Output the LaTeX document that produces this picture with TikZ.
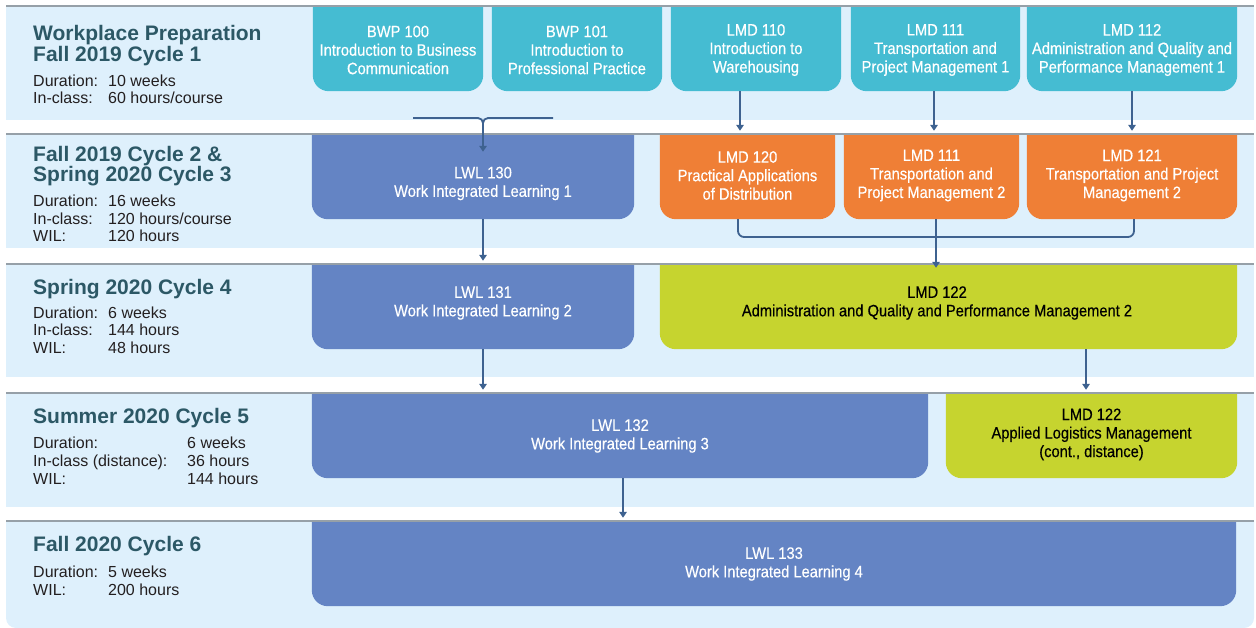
\documentclass[tikz,border=0pt]{standalone}
\usepackage{fontspec}
\setmainfont{Liberation Sans}
\newfontfamily\condfont[FakeStretch=0.89,FakeBold=0.4]{Liberation Sans}
\usetikzlibrary{arrows.meta,fit,calc}
\definecolor{bandbg}{RGB}{222,240,252}
\definecolor{gridc}{RGB}{150,160,168}
\definecolor{tealc}{RGB}{69,188,210}
\definecolor{bluec}{RGB}{100,132,196}
\definecolor{orangec}{RGB}{239,127,54}
\definecolor{greenc}{RGB}{198,212,47}
\definecolor{connc}{RGB}{62,98,144}
\definecolor{titlec}{RGB}{44,88,102}
\definecolor{bodyc}{RGB}{35,31,32}
\tikzset{
  conn/.style={draw=connc, line width=1.8pt, -{Triangle[width=7.5pt,length=6pt]}, shorten >=3pt},
  connplain/.style={draw=connc, line width=1.8pt},
  boxtext/.style={font=\condfont\fontsize{16.5}{18.5}\selectfont, align=center, inner sep=0pt},
  ttl/.style={font=\bfseries\fontsize{21}{21}\selectfont, text=titlec, anchor=base west, inner sep=0pt},
  bod/.style={font=\fontsize{16}{17.5}\selectfont, text=bodyc, anchor=base west, inner sep=0pt},
  gridline/.style={draw=gridc, line width=1.3pt},
}
% #1 name, #2 x1, #3 y1, #4 x2, #5 y2, #6 fill, #7 text colour, #8 text, #9 text position
\newcommand{\cbox}[9]{%
  \node[fit={(#2,#3) (#4,#5)}, inner sep=0pt] (#1) {};
  \begin{scope}
    \clip (#1.north west) rectangle (#1.south east);
    \fill[#6, rounded corners=16pt] ([yshift=30pt]#1.north west) rectangle (#1.south east);
  \end{scope}
  \node[boxtext, text=#7, yshift=-1.5pt] (#1-t) at (#9) {#8};
}
\begin{document}
\begin{tikzpicture}[x=1pt,y=-1pt]
\useasboundingbox (0,0) rectangle (1256,628);
% bands
\fill[bandbg] (6,6) rectangle (1254,120);
\fill[bandbg] (6,134) rectangle (1254,248);
\fill[bandbg] (6,264) rectangle (1254,377);
\fill[bandbg] (6,393) rectangle (1254,507);
\begin{scope}
  \clip (6,521) rectangle (1254,628);
  \fill[bandbg, rounded corners=10pt] (6,500) rectangle (1254,628);
\end{scope}

% row 1
\cbox{bwp100}{313}{6}{483}{91}{tealc}{white}{BWP 100\\Introduction to Business\\Communication}{398,48.5}
\cbox{bwp101}{492}{6}{662}{91}{tealc}{white}{BWP 101\\Introduction to\\Professional Practice}{577,48.5}
\cbox{lmd110}{671}{6}{841}{91}{tealc}{white}{LMD 110\\Introduction to\\Warehousing}{756,48.5}
\cbox{lmd111a}{851}{6}{1020}{91}{tealc}{white}{LMD 111\\Transportation and\\Project Management 1}{935.5,48.5}
\cbox{lmd112}{1027}{6}{1237}{91}{tealc}{white}{LMD 112\\Administration and Quality and\\Performance Management 1}{1132,48.5}
% row 2
\cbox{lwl130}{312}{134}{634}{219}{bluec}{white}{LWL 130\\Work Integrated Learning 1}{483,182}
\cbox{lmd120}{660}{134}{835}{219}{orangec}{white}{LMD 120\\Practical Applications\\of Distribution}{747.5,174}
\cbox{lmd111b}{844}{134}{1019}{219}{orangec}{white}{LMD 111\\Transportation and\\Project Management 2}{931.5,174}
\cbox{lmd121}{1027}{134}{1237}{219}{orangec}{white}{LMD 121\\Transportation and Project\\Management 2}{1132,174}
% row 3
\cbox{lwl131}{312}{264}{634}{349}{bluec}{white}{LWL 131\\Work Integrated Learning 2}{483,301.5}
\cbox{lmd122}{660}{264}{1237}{349}{greenc}{black}{LMD 122\\Administration and Quality and Performance Management 2}{937,301.5}
% row 4
\cbox{lwl132}{312}{393}{928}{478}{bluec}{white}{LWL 132\\Work Integrated Learning 3}{620,434.5}
\cbox{lmd122b}{946}{393}{1237}{478}{greenc}{black}{LMD 122\\Applied Logistics Management\\(cont., distance)}{1091.5,433}
% row 5
\cbox{lwl133}{312}{521}{1236}{606}{bluec}{white}{LWL 133\\Work Integrated Learning 4}{774,562.5}

% band top lines
\draw[gridline] (6,6) -- (1254,6);
\draw[gridline] (6,134) -- (1254,134);
\draw[gridline] (6,264) -- (1254,264);
\draw[gridline] (6,393) -- (1254,393);
\draw[gridline] (6,521) -- (1254,521);

% connectors
\coordinate (brL) at (413,118);
\coordinate (brR) at (553,118);
\coordinate (brM) at (483,118);
\coordinate (brD) at (483,130);
\draw[connplain, rounded corners=5pt] (brL) -- (brM) -- (brD);
\draw[connplain, rounded corners=5pt] (brR) -- (brM) -- (brD);
\draw[conn, shorten >=0pt] (brD) -- ([yshift=-18pt]lwl130.north -| brM);

\coordinate (a1) at ([xshift=-16pt]lmd110.south);
\draw[conn] (a1) -- (a1 |- lmd120.north);
\coordinate (a2) at ([xshift=-1.5pt]lmd111a.south);
\draw[conn] (a2) -- (a2 |- lmd111b.north);
\draw[conn] (lmd112.south) -- (lmd121.north);

\draw[conn] (lwl130-t |- lwl130.south) -- (lwl130-t |- lwl131.north);

\coordinate (obL) at ([xshift=-9.5pt]lmd120.south);
\coordinate (obR) at ([xshift=2pt]lmd121.south);
\coordinate (obM) at ([xshift=4.5pt]lmd111b.south);
\coordinate (obY) at (0,237);
\draw[connplain, rounded corners=6pt] (obL) -- (obL |- obY) -- (obR |- obY) -- (obR);
\coordinate (obT) at ([yshift=-4pt]obM |- lmd122.north);
\draw[conn, shorten >=0pt] (obM) -- (obT);

\draw[conn] (lwl131-t |- lwl131.south) -- (lwl131-t |- lwl132.north);
\coordinate (a8) at ([xshift=-5.5pt]lmd122b.north);
\draw[conn] (a8 |- lmd122.south) -- (a8);
\coordinate (a9) at ([xshift=3pt]lwl132.south);
\draw[conn] (a9) -- (a9 |- lwl133.north);

% left texts
\node[ttl] (t1a) at (33,41) {Workplace Preparation};
\node[ttl] (t1b) at (33,62) {Fall 2019 Cycle 1};
\node[bod] (d1l) at (33,87) {Duration:};
\node[bod] (d1v) at (108,87) {10 weeks};
\node[bod] (c1l) at (33,104) {In-class:};
\node[bod] (c1v) at (108,104) {60 hours/course};

\node[ttl] (t2a) at (33,162) {Fall 2019 Cycle 2 \&};
\node[ttl] (t2b) at (33,182) {Spring 2020 Cycle 3};
\node[bod] (d2l) at (33,207) {Duration:};
\node[bod] (d2v) at (108,207) {16 weeks};
\node[bod] (c2l) at (33,225) {In-class:};
\node[bod] (c2v) at (108,225) {120 hours/course};
\node[bod] (w2l) at (33,242) {WIL:};
\node[bod] (w2v) at (108,242) {120 hours};

\node[ttl] (t3a) at (33,295) {Spring 2020 Cycle 4};
\node[bod] (d3l) at (33,319) {Duration:};
\node[bod] (d3v) at (108,319) {6 weeks};
\node[bod] (c3l) at (33,336) {In-class:};
\node[bod] (c3v) at (108,336) {144 hours};
\node[bod] (w3l) at (33,354) {WIL:};
\node[bod] (w3v) at (108,354) {48 hours};

\node[ttl] (t4a) at (33,423) {Summer 2020 Cycle 5};
\node[bod] (d4l) at (33,448) {Duration:};
\node[bod] (d4v) at (187,448) {6 weeks};
\node[bod] (c4l) at (33,466) {In-class (distance):};
\node[bod] (c4v) at (187,466) {36 hours};
\node[bod] (w4l) at (33,484) {WIL:};
\node[bod] (w4v) at (187,484) {144 hours};

\node[ttl] (t5a) at (33,551) {Fall 2020 Cycle 6};
\node[bod] (d5l) at (33,577) {Duration:};
\node[bod] (d5v) at (108,577) {5 weeks};
\node[bod] (w5l) at (33,595) {WIL:};
\node[bod] (w5v) at (108,595) {200 hours};
\end{tikzpicture}
\end{document}
